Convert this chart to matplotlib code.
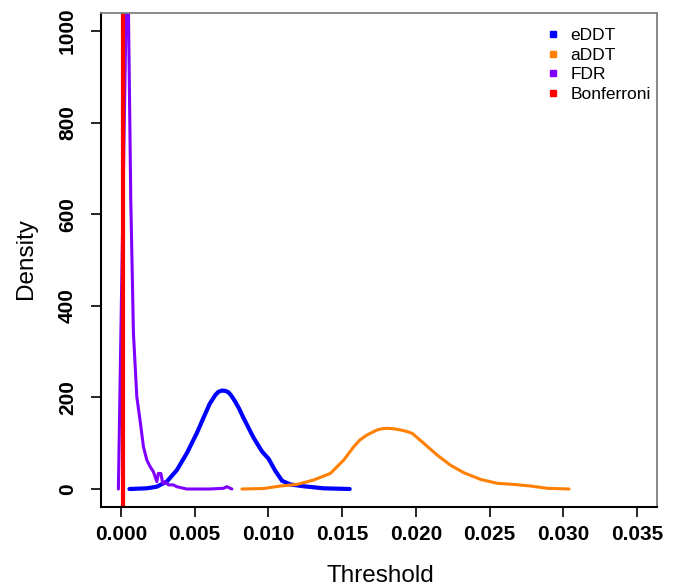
"""
Density of the detection thresholds for eDDT, aDDT, FDR and Bonferroni,
drawn in the look of an R base-graphics plot.
"""

import matplotlib
matplotlib.use("Agg")
import matplotlib.pyplot as plt
from matplotlib.lines import Line2D

plt.rcParams["font.family"] = ["Liberation Sans", "DejaVu Sans"]

# eDDT density
eddt_x = [0.00057, 0.00174, 0.00242, 0.00310, 0.00378, 0.00446, 0.00514, 0.00560,
          0.00600, 0.00639, 0.00660, 0.00684, 0.00710, 0.00729, 0.00750, 0.00774,
          0.00800, 0.00831, 0.00899, 0.00956, 0.01001, 0.01046, 0.01092, 0.01148,
          0.01238, 0.01374, 0.01551]
eddt_y = [0, 1.5, 5, 16, 41, 78, 122, 156, 185, 205, 212, 215, 214, 211, 203, 191,
          176, 155, 112, 82, 66, 40, 18, 10, 6, 1.5, 0]

# aDDT density
addt_x = [0.00820, 0.00967, 0.01080, 0.01193, 0.01306, 0.01420, 0.01510, 0.01578,
          0.01620, 0.01669, 0.01737, 0.01770, 0.01805, 0.01850, 0.01895, 0.01935,
          0.01975, 0.02054, 0.02145, 0.02235, 0.02325, 0.02439, 0.02552, 0.02665,
          0.02778, 0.02892, 0.03039]
addt_y = [0, 1, 6.5, 10, 19.6, 34, 63, 92, 107, 118, 129, 131.5, 132.5, 131.5, 129,
          126, 121.6, 99.7, 74, 52, 35.6, 21, 12.4, 10, 6.5, 1.5, 0]

# FDR density (peak runs off the top of the plot)
fdr_x = [-0.00018, 0.00000, 0.00020, 0.00034, 0.00040, 0.00050, 0.00066, 0.00084,
         0.00107, 0.00129, 0.00152, 0.00175, 0.00197, 0.00219, 0.00243, 0.00253,
         0.00270, 0.00283, 0.00299, 0.00321, 0.00355, 0.00378, 0.00446, 0.00600,
         0.00695, 0.00718, 0.00752]
fdr_y = [0, 360, 760, 1039, 1250, 1050, 631, 340, 201, 150, 92, 63, 49, 38, 16, 34,
         34, 12, 16, 9, 9, 5, 0, 0, 1.5, 5, 0]

# Bonferroni threshold
bonf_x = 0.0001

labels = ["eDDT", "aDDT", "FDR", "Bonferroni"]
colors = ["#0000ff", "#ff7f00", "#7f00ff", "#ff0000"]

fig = plt.figure(figsize=(6.75, 5.88), dpi=100)
ax = fig.add_axes([101 / 675, 1 - 507 / 588, 556 / 675, 494 / 588])

line_kw = dict(solid_capstyle="round", solid_joinstyle="round")
ax.plot(eddt_x, eddt_y, color=colors[0], lw=3.0, **line_kw)
ax.plot(addt_x, addt_y, color=colors[1], lw=2.2, **line_kw)
ax.plot(fdr_x, fdr_y, color=colors[2], lw=2.2, **line_kw)
ax.axvline(bonf_x, color=colors[3], lw=3.0)

ax.set_xlim(-0.00136, 0.03636)
ax.set_ylim(-39.3, 1039.3)
ax.set_xticks([0.000, 0.005, 0.010, 0.015, 0.020, 0.025, 0.030, 0.035])
ax.set_xticklabels([f"{v:.3f}" for v in ax.get_xticks()],
                   fontsize=15, fontweight="bold")
ax.set_yticks([0, 200, 400, 600, 800, 1000])
ax.set_yticklabels([str(v) for v in [0, 200, 400, 600, 800, 1000]],
                   fontsize=15, fontweight="bold", rotation=90, va="center")
ax.tick_params(axis="x", length=7.2, width=1.2, pad=6)
ax.tick_params(axis="y", length=7.2, width=1.2, pad=10)

for side in ["left", "bottom"]:
    ax.spines[side].set_color("black")
    ax.spines[side].set_linewidth(1.5)
for side in ["top", "right"]:
    ax.spines[side].set_color("#808080")
    ax.spines[side].set_linewidth(1.3)

fig.text(380 / 675, 1 - 582 / 588, "Threshold", fontsize=17.5,
         ha="center", va="baseline")
fig.text(26 / 675, 1 - 259 / 588, "Density", fontsize=17.5,
         ha="center", va="center", rotation=90)

handles = [Line2D([], [], ls="", marker="s", ms=5, color=c) for c in colors]
ax.legend(handles, labels, loc="upper left",
          bbox_to_anchor=(549 / 675, 1 - 28 / 588), bbox_transform=fig.transFigure,
          frameon=False, fontsize=12.5, handlelength=0.5, handletextpad=0.75,
          labelspacing=0.25, borderpad=0, borderaxespad=0)

fig.savefig("out.png", dpi=100)
